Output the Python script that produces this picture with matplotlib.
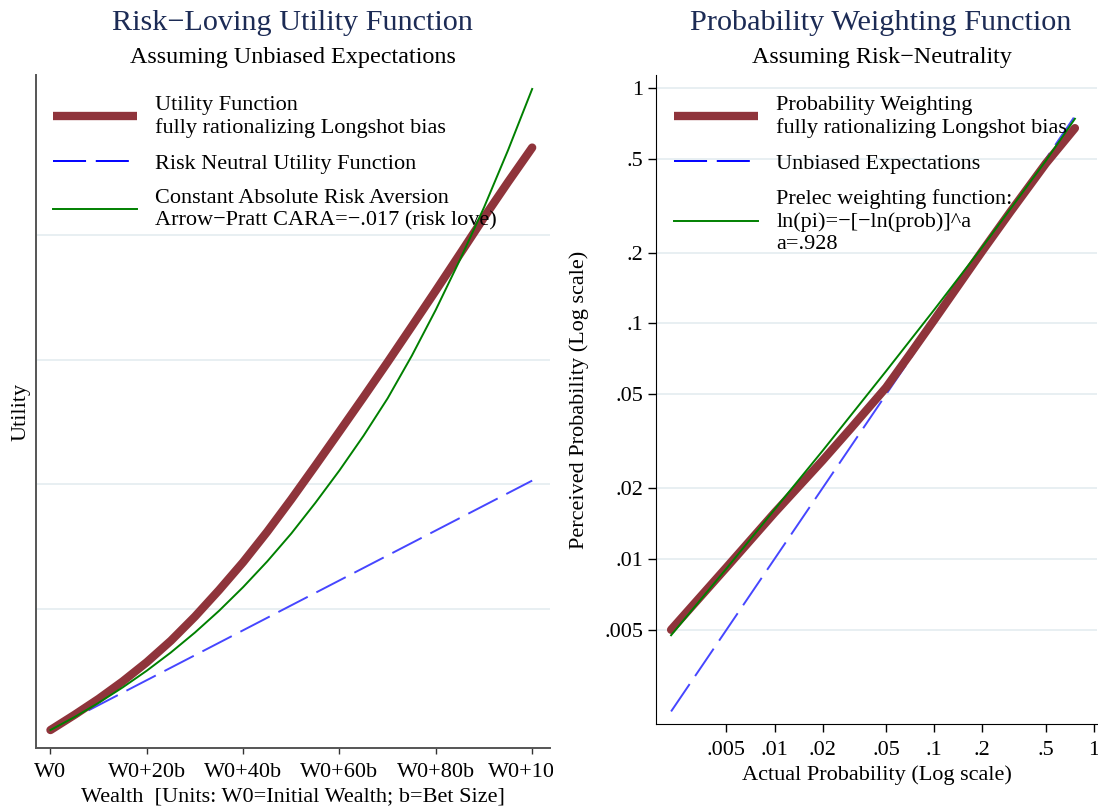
import matplotlib
matplotlib.use('Agg')
import matplotlib.pyplot as plt
from matplotlib.transforms import Bbox, TransformedBbox, IdentityTransform
from matplotlib.ticker import NullLocator

plt.rcParams['font.family'] = ['Liberation Serif', 'DejaVu Serif']

red = '#8f343b'
blue = '#4646ff'
green = '#008000'
grid_col = '#e6eef1'
navy = '#1c2b55'

# ---- left panel: utility over wealth (units of bet size above W0)
wealth = [0, 5, 10, 15, 20, 25, 30, 35, 40, 45, 50, 55, 60, 65, 70, 75, 80, 85, 90, 95, 100]
u_longshot = [1.5, 7.6, 14.0, 21.0, 28.7, 37.3, 47.0, 57.6, 68.8, 81.0, 94.0, 107.5,
              121.2, 135.0, 149.0, 163.3, 177.7, 192.3, 207.0, 221.2, 235.0]
u_cara = [1.5, 6.7, 12.4, 18.6, 25.3, 32.6, 40.6, 49.3, 58.8, 69.1, 80.3, 92.6,
          105.6, 119.5, 134.5, 151.5, 170.0, 190.0, 211.0, 234.0, 258.5]
wealth_neutral = [0, 100]
u_neutral = [1.5, 101.5]
wealth_ticks = [0, 20, 40, 60, 80, 100]
wealth_labels = ['W0', 'W0+20b', 'W0+40b', 'W0+60b', 'W0+80b', 'W0+100b']
u_grid = [50, 100, 150, 200]

# ---- right panel: probability weighting (log-log)
p_longshot = [0.00225, 0.005, 0.01, 0.02, 0.03, 0.05, 0.07, 0.1, 0.2, 0.3, 0.5, 0.76]
w_longshot = [0.0050, 0.0092, 0.0157, 0.0262, 0.0358, 0.0535, 0.0735, 0.1035, 0.203, 0.298, 0.478, 0.675]
p_prelec = [0.00225, 0.005, 0.01, 0.02, 0.05, 0.1, 0.2, 0.5, 0.76]
w_prelec = [0.00474, 0.0091, 0.0162, 0.0288, 0.0628, 0.1144, 0.211, 0.491, 0.74]
p_unbiased = [0.00225, 0.76]
prob_ticks = [0.005, 0.01, 0.02, 0.05, 0.1, 0.2, 0.5, 1]
prob_labels = ['.005', '.01', '.02', '.05', '.1', '.2', '.5', '1']

fig = plt.figure(figsize=(10.98, 8.10), dpi=100)
W, H = 1098, 810
ax1 = fig.add_axes([36 / W, 1 - 748 / H, (550 - 36) / W, (748 - 75) / H])
ax2 = fig.add_axes([656 / W, 1 - 724 / H, (1097 - 656) / W, (724 - 75) / H])

leg_kw = dict(loc='upper left', bbox_transform=fig.transFigure, frameon=False, fontsize=16,
              handlelength=3.8, handletextpad=0.8, borderpad=0, borderaxespad=0, labelspacing=0.68)

# left
lb1, = ax1.plot(wealth_neutral, u_neutral, color=blue, lw=1.4, ls=(0, (17, 5)))
lr1, = ax1.plot(wealth, u_longshot, color=red, lw=6, solid_capstyle='round', solid_joinstyle='round')
lg1, = ax1.plot(wealth, u_cara, color=green, lw=1.4)
ax1.set_xlim(-3.0, 103.7)
ax1.set_ylim(-5.7, 264.1)
ax1.set_xticks(wealth_ticks)
ax1.set_xticklabels(wealth_labels)
ax1.set_yticks(u_grid)
ax1.tick_params(axis='y', length=0, labelleft=False)
ax1.tick_params(axis='x', length=4.5, width=1, pad=6, labelsize=16, color='#333333')
ax1.yaxis.grid(True, color=grid_col, lw=1.3)
ax1.set_axisbelow(True)
for s in ['top', 'right']:
    ax1.spines[s].set_visible(False)
for s in ['left', 'bottom']:
    ax1.spines[s].set_color('#555555')
    ax1.spines[s].set_linewidth(1.4)
ax1.set_xlabel('Wealth  [Units: W0=Initial Wealth; b=Bet Size]', fontsize=16)
ax1.set_ylabel('Utility', fontsize=16)
ax1.xaxis.set_label_coords(0.5, -0.058)
ax1.yaxis.set_label_coords(-0.01, 0.5)

leg1 = ax1.legend([lr1, lb1, lg1],
                  ['Utility Function\nfully rationalizing Longshot bias',
                   'Risk Neutral Utility Function',
                   'Constant Absolute Risk Aversion\nArrow\u2212Pratt CARA=\u2212.017 (risk love)'],
                  bbox_to_anchor=(53 / W, 1 - 96 / H), **leg_kw)

# right
lb2, = ax2.plot(p_unbiased, p_unbiased, color=blue, lw=1.4, ls=(0, (17, 5)))
lr2, = ax2.plot(p_longshot, w_longshot, color=red, lw=6, solid_capstyle='round', solid_joinstyle='round')
lg2, = ax2.plot(p_prelec, w_prelec, color=green, lw=1.4)
ax2.set_xscale('log')
ax2.set_yscale('log')
ax2.set_xlim(0.00181, 1.045)
ax2.set_ylim(0.00199, 1.135)
ax2.set_xticks(prob_ticks)
ax2.set_xticklabels(prob_labels)
ax2.set_yticks(prob_ticks)
ax2.set_yticklabels(prob_labels)
ax2.xaxis.set_minor_locator(NullLocator())
ax2.yaxis.set_minor_locator(NullLocator())
ax2.tick_params(length=6, width=1, labelsize=16)
ax2.tick_params(axis='x', pad=6)
ax2.tick_params(axis='y', pad=3)
ax2.yaxis.grid(True, color=grid_col, lw=1.3)
ax2.set_axisbelow(True)
for s in ['top', 'right']:
    ax2.spines[s].set_visible(False)
ax2.set_xlabel('Actual Probability (Log scale)', fontsize=16)
ax2.set_ylabel('Perceived Probability (Log scale)', fontsize=16)
ax2.xaxis.set_label_coords(0.5, -0.063)
ax2.yaxis.set_label_coords(-0.152, 0.5)

leg2 = ax2.legend([lr2, lb2, lg2],
                  ['Probability Weighting\nfully rationalizing Longshot bias',
                   'Unbiased Expectations',
                   'Prelec weighting function:\nln(pi)=\u2212[\u2212ln(prob)]^a\na=.928'],
                  bbox_to_anchor=(674 / W, 1 - 96 / H), **leg_kw)

for leg in (leg1, leg2):
    for t in leg.get_texts():
        t.set_linespacing(1.22)
    leg.legend_handles[0].set_solid_capstyle('butt')
    leg.legend_handles[1].set_color('#0000ff')

# titles
fig.text(292.5 / W, 1 - 30 / H, 'Risk\u2212Loving Utility Function', ha='center', va='baseline',
         fontsize=21.8, color=navy)
fig.text(293 / W, 1 - 63 / H, 'Assuming Unbiased Expectations', ha='center', va='baseline', fontsize=17.4)
fig.text(881 / W, 1 - 30 / H, 'Probability Weighting Function', ha='center', va='baseline',
         fontsize=21.8, color=navy)
fig.text(882 / W, 1 - 63 / H, 'Assuming Risk\u2212Neutrality', ha='center', va='baseline', fontsize=17.4)

# last wealth label is cut at the panel edge
clip = TransformedBbox(Bbox.from_extents(0, 0, 553, H), IdentityTransform())
for tk in ax1.xaxis.get_major_ticks():
    tk.label1.set_clip_box(clip)
    tk.label1.set_clip_on(True)

fig.savefig('out.png', dpi=100)
